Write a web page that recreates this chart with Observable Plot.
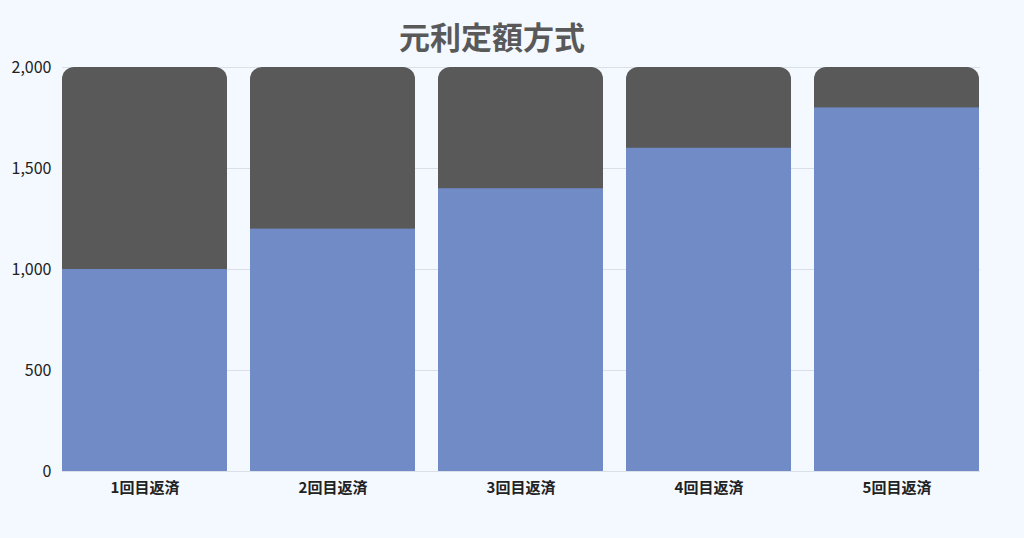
<!DOCTYPE html>
<html><head><meta charset="utf-8">
<script src="https://cdn.jsdelivr.net/npm/d3@7"></script>
<script src="https://cdn.jsdelivr.net/npm/@observablehq/plot@0.6"></script>
<style>
html,body{margin:0;padding:0;background:#f3f9fe;}
#wrap{position:relative;width:1024px;height:538px;font-family:"Noto Sans CJK JP","Noto Sans",sans-serif;}
#title{position:absolute;left:0;top:0;width:1024px;height:50px;text-align:center;font-size:31px;font-weight:700;color:#595959;line-height:72px;transform:translateX(-20px);}
#chart{position:absolute;left:0;top:50px;}
</style></head>
<body><div id="wrap"><div id="title">元利定額方式</div><div id="chart"></div></div>
<script>
const categories = ["1回目返済","2回目返済","3回目返済","4回目返済","5回目返済"];
const principal = [1000,1200,1400,1600,1800];
const interest = [1000,800,600,400,200];
const yTicks = [0,500,1000,1500,2000];

const rows = categories.map((c,i)=>({cat:c, principal:principal[i], interest:interest[i], total:principal[i]+interest[i]}));

const chart = Plot.plot({
  width:1024, height:488,
  marginLeft:62, marginRight:44, marginTop:17, marginBottom:67,
  style:{background:"transparent", fontFamily:"'Noto Sans CJK JP','Noto Sans',sans-serif", color:"#222"},
  x:{domain:categories, paddingInner:0.122, paddingOuter:0, label:null},
  y:{domain:[0,2000], ticks:yTicks, label:null},
  marks:[
    Plot.ruleY(yTicks,{stroke:"#d9e0e8", strokeWidth:1}),
    Plot.barY(rows,{x:"cat", y:"total", fill:"#595959", rx:12}),
    Plot.barY(rows,{x:"cat", y:"principal", fill:"#718bc7"}),
    Plot.axisY({ticks:yTicks, tickSize:0, tickPadding:11, fontSize:16, tickFormat:d3.format(","), label:null}),
    Plot.axisX({tickSize:0, tickPadding:11, fontSize:15, fontWeight:600, label:null})
  ]
});
document.getElementById("chart").appendChild(chart);
</script></body></html>
